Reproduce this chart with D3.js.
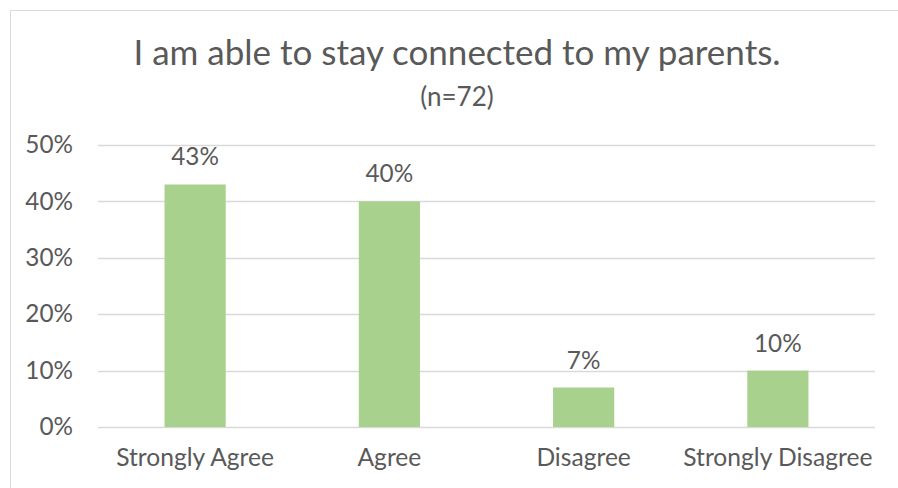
<!DOCTYPE html>
<html lang="en">
<head>
<meta charset="utf-8">
<title>I am able to stay connected to my parents.</title>
<style>
  body { margin: 0; background: #fff; }
  text { font-family: Lato, "Open Sans", sans-serif; fill: #595959; }
</style>
</head>
<body>
<script src="https://cdn.jsdelivr.net/npm/d3@7"></script>
<script>
// chart data
var categories = ["Strongly Agree", "Agree", "Disagree", "Strongly Disagree"];
var values = [0.43, 0.40, 0.07, 0.10];
var yTicks = [0, 0.1, 0.2, 0.3, 0.4, 0.5];
var title = "I am able to stay connected to my parents.";
var subtitle = "(n=72)";

var W = 898, H = 488;
var plot = {left: 98, right: 875, top: 145, bottom: 427};
var fontSize = "24.3px";

var svg = d3.select("body").append("svg")
    .attr("width", W)
    .attr("height", H);

// outer chart frame
svg.append("rect")
    .attr("x", 10.5).attr("y", 10.5)
    .attr("width", W).attr("height", H)
    .attr("fill", "#fff")
    .attr("stroke", "#d9d9d9");

var x = d3.scaleBand()
    .domain(categories)
    .range([plot.left, plot.right]);

var y = d3.scaleLinear()
    .domain([0, 0.5])
    .range([plot.bottom, plot.top]);

var barW = x.bandwidth() * 0.315;

// gridlines
svg.append("g")
  .selectAll("line")
  .data(yTicks)
  .enter().append("line")
    .attr("x1", plot.left).attr("x2", plot.right)
    .attr("y1", function(d) { return Math.round(y(d)) + 0.5; })
    .attr("y2", function(d) { return Math.round(y(d)) + 0.5; })
    .attr("stroke", "#d9d9d9")
    .attr("stroke-width", 1.3);

// y labels
var yAxis = d3.axisLeft(y).tickValues(yTicks).tickFormat(d3.format(".0%")).tickSize(0).tickPadding(25);
var gy = svg.append("g")
    .attr("transform", "translate(" + plot.left + ",0)")
    .call(yAxis);
gy.select(".domain").remove();
gy.selectAll("text")
    .attr("dy", "0.32em")
    .style("font-size", fontSize)
    .style("font-family", "Lato, sans-serif")
    .attr("fill", "#595959");

// bars
svg.selectAll(".bar")
    .data(values)
  .enter().append("rect")
    .attr("class", "bar")
    .attr("x", function(d, i) { return x(categories[i]) + x.bandwidth() / 2 - barW / 2; })
    .attr("width", barW)
    .attr("y", function(d) { return y(d); })
    .attr("height", function(d) { return y(0) - y(d); })
    .attr("fill", "#a9d18e");

// data labels
svg.selectAll(".lbl")
    .data(values)
  .enter().append("text")
    .attr("class", "lbl")
    .attr("x", function(d, i) { return x(categories[i]) + x.bandwidth() / 2; })
    .attr("y", function(d) { return y(d) - 19; })
    .attr("text-anchor", "middle")
    .style("font-size", fontSize)
    .text(function(d) { return d3.format(".0%")(d); });

// x labels
var xAxis = d3.axisBottom(x).tickSize(0).tickPadding(22);
var gx = svg.append("g")
    .attr("transform", "translate(0," + plot.bottom + ")")
    .call(xAxis);
gx.select(".domain").remove();
gx.selectAll("text")
    .style("font-size", "24.6px")
    .style("font-family", "Lato, sans-serif")
    .attr("fill", "#595959");

// titles
svg.append("text")
    .attr("x", 457).attr("y", 65)
    .attr("text-anchor", "middle")
    .style("font-size", "35px")
    .text(title);

svg.append("text")
    .attr("x", 457).attr("y", 106)
    .attr("text-anchor", "middle")
    .style("font-size", "26px")
    .text(subtitle);
</script>
</body>
</html>
